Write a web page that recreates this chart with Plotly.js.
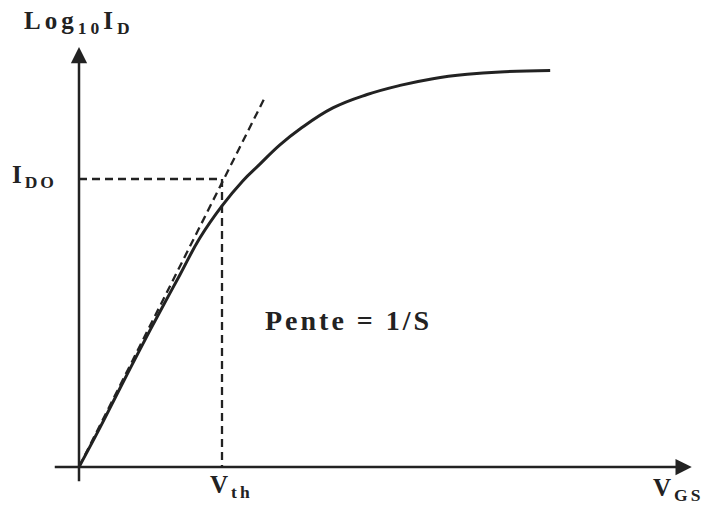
<!DOCTYPE html>
<html>
<head>
<meta charset="utf-8">
<script src="https://cdn.plot.ly/plotly-3.0.1.min.js"></script>
<style>
  html, body { margin: 0; padding: 0; background: #fff; }
  #chart { width: 705px; height: 505px; }
</style>
</head>
<body>
<div id="chart"></div>
<script>
const vgs   = [0, 0.29, 0.57, 0.85, 1.13, 1.41, 1.69, 2.00, 2.29, 2.53, 2.81, 3.09, 3.55, 4.03, 4.49, 4.95, 5.43, 5.89, 6.59];
const logId = [0, 0.81, 1.63, 2.44, 3.23, 4.00, 4.77, 5.44, 5.96, 6.31, 6.71, 7.04, 7.48, 7.76, 7.95, 8.09, 8.18, 8.23, 8.26];

// tangente (pente = 1/S)
const tangentX = [0, 2.6];
const tangentY = [0, 7.7];

// repère Vth / ID0
const vth = 2;
const id0 = 6;

// étendue des axes fléchés
const axisX = [-0.36, 8.57];
const axisY = [-0.33, 8.75];

const ink = '#222';
const serif = 'Liberation Serif, Times New Roman, serif';

const traces = [
    {
        x: vgs, y: logId,
        type: 'scatter', mode: 'lines',
        line: { color: ink, width: 3, shape: 'spline', smoothing: 1.2 },
        hoverinfo: 'skip'
    },
    {
        x: tangentX, y: tangentY,
        type: 'scatter', mode: 'lines',
        line: { color: ink, width: 2.3, dash: '8px,5px' },
        hoverinfo: 'skip'
    },
    {
        x: [0, vth, vth], y: [id0, id0, 0],
        type: 'scatter', mode: 'lines',
        line: { color: ink, width: 2.3, dash: '8px,5px' },
        hoverinfo: 'skip'
    }
];

function arrow(x, y, ax, ay) {
    return {
        x: x, y: y, ax: ax, ay: ay,
        xref: 'x', yref: 'y', axref: 'x', ayref: 'y',
        text: '', showarrow: true,
        arrowhead: 2, arrowsize: 1.3, arrowwidth: 2.5, arrowcolor: ink
    };
}

// texte espacé comme sur le schéma d'origine
function spaced(html, px) {
    return '<span style="letter-spacing:' + px + 'px"><b>' + html + '</b></span>';
}

function label(text, x, y, size, xanchor) {
    return {
        x: x, y: y, xref: 'x', yref: 'y',
        text: text, showarrow: false,
        xanchor: xanchor || 'left', yanchor: 'middle',
        font: { family: serif, size: size, color: ink, weight: 'bold' }
    };
}

const annotations = [
    arrow(0, axisY[1], 0, axisY[0]),
    arrow(axisX[1], 0, axisX[0], 0),
    label(spaced('Log<sub>10</sub>I<sub>D</sub>', 4), -0.80, 9.27, 25),
    label(spaced('I<sub>DO</sub>', 3), -0.97, 6.05, 25),
    label(spaced('V<sub>th</sub>', 3), 1.80, -0.40, 25),
    label(spaced('V<sub>GS</sub>', 3), 8.75, -0.46, 25, 'right'),
    label(spaced('Pente = 1/S', 3), 2.57, 3.06, 28)
];

const layout = {
    width: 705,
    height: 505,
    margin: { l: 0, r: 0, t: 0, b: 0 },
    paper_bgcolor: 'white',
    plot_bgcolor: 'white',
    showlegend: false,
    xaxis: { range: [-79 / 71.5, 626 / 71.5], visible: false, fixedrange: true },
    yaxis: { range: [-38 / 48, 467 / 48], visible: false, fixedrange: true },
    annotations: annotations
};

Plotly.newPlot('chart', traces, layout, { staticPlot: true, displayModeBar: false });
</script>
</body>
</html>
